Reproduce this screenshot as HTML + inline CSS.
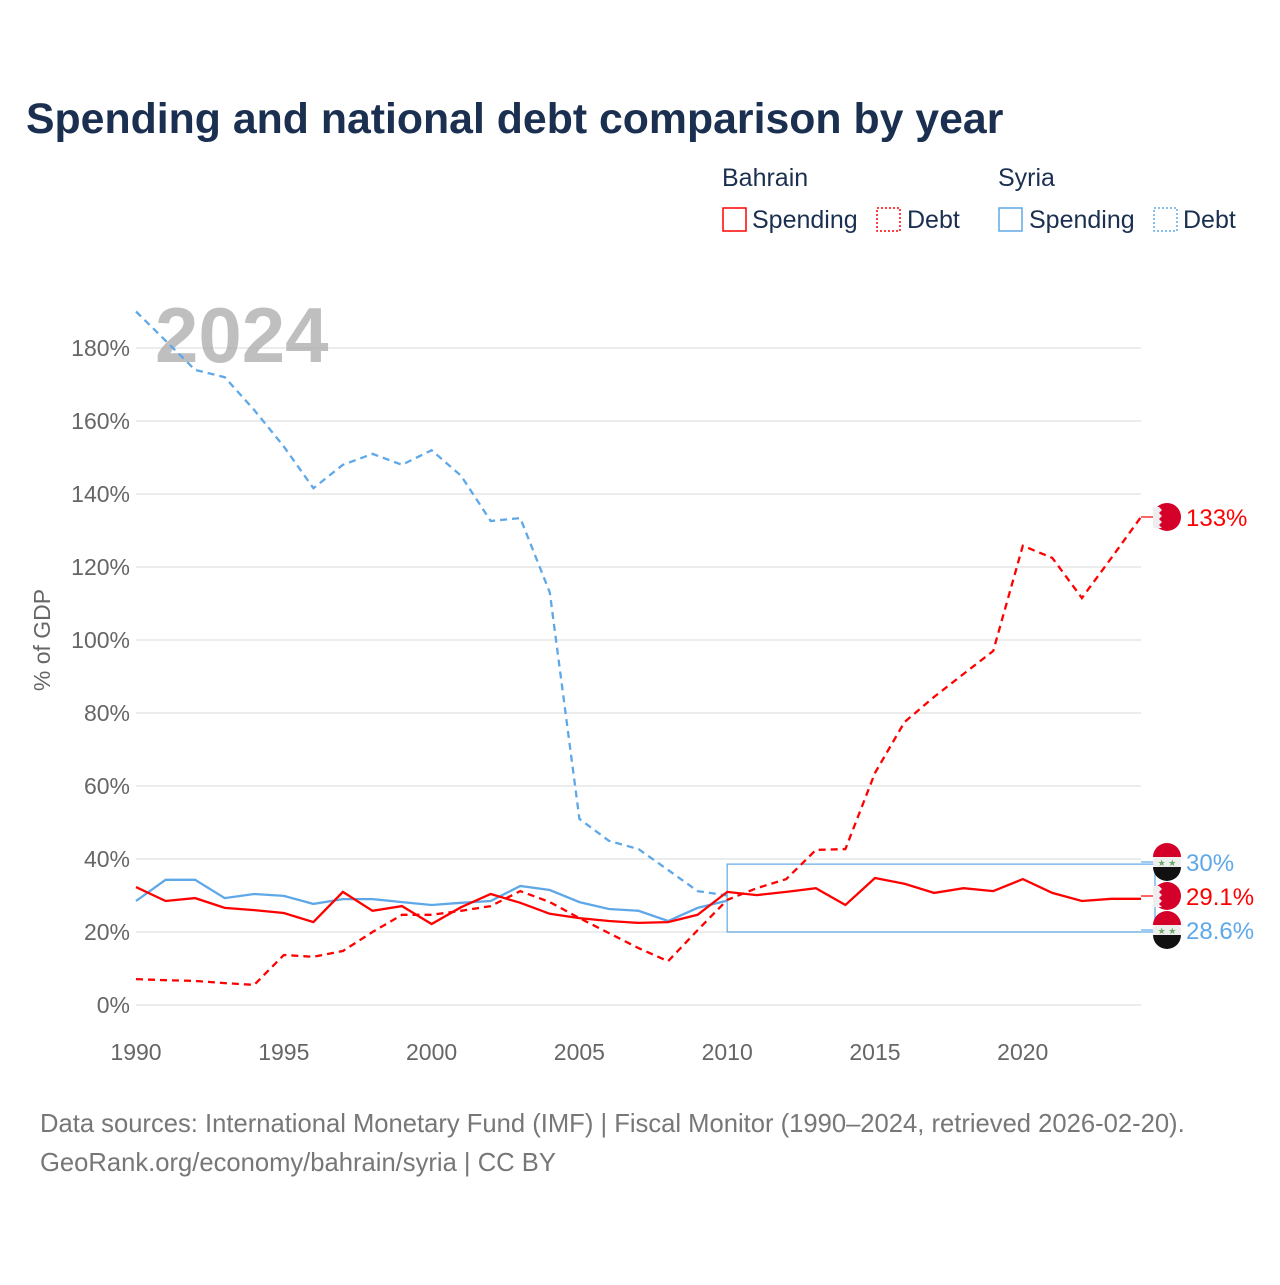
<!DOCTYPE html>
<html><head><meta charset="utf-8"><style>
body{margin:0;background:#fff;font-family:"Liberation Sans",sans-serif}
</style></head><body>
<svg width="1280" height="1280" xmlns="http://www.w3.org/2000/svg" font-family="Liberation Sans, sans-serif">
<rect width="1280" height="1280" fill="#fff"/>
<text x="26" y="133" font-size="42.8" font-weight="bold" fill="#1b3050">Spending and national debt comparison by year</text>
<g font-size="25" fill="#1b3050">
<text x="722" y="186">Bahrain</text>
<text x="998" y="186">Syria</text>
<g><rect x="723" y="208" width="23" height="23" fill="none" stroke="#f00" stroke-width="1.5"/><text x="752" y="228">Spending</text></g>
<g><rect x="877" y="208" width="23" height="23" fill="none" stroke="#f00" stroke-width="1.5" stroke-dasharray="2,2"/><text x="907" y="228">Debt</text></g>
<g><rect x="999" y="208" width="23" height="23" fill="none" stroke="#5fa8e8" stroke-width="1.5"/><text x="1029" y="228">Spending</text></g>
<g><rect x="1154" y="208" width="23" height="23" fill="none" stroke="#5fa8e8" stroke-width="1.5" stroke-dasharray="2,2"/><text x="1183" y="228">Debt</text></g>
</g>
<g id="grid"></g>
<text x="155" y="362" font-size="78" font-weight="bold" fill="#aaa" opacity="0.75">2024</text>
<text transform="translate(50,640) rotate(-90)" text-anchor="middle" font-size="23" fill="#666">% of GDP</text>
<g id="marks"></g>
<g font-size="25.6" fill="#777">
<text x="40" y="1132">Data sources: International Monetary Fund (IMF) | Fiscal Monitor (1990–2024, retrieved 2026-02-20).</text>
<text x="40" y="1171">GeoRank.org/economy/bahrain/syria | CC BY</text>
</g>
</svg>
<script>
const years=[1990,1991,1992,1993,1994,1995,1996,1997,1998,1999,2000,2001,2002,2003,2004,2005,2006,2007,2008,2009,2010,2011,2012,2013,2014,2015,2016,2017,2018,2019,2020,2021,2022,2023,2024];
const bahrainSpending=[32.3,28.5,29.3,26.6,26,25.2,22.7,31,25.8,27.1,22.2,26.8,30.4,28,25,23.8,23,22.5,22.7,24.7,31,30.1,31,32,27.4,34.8,33.2,30.7,32,31.2,34.5,30.7,28.5,29.1,29.1];
const bahrainDebt=[7.1,6.8,6.6,6,5.5,13.7,13.2,14.8,20,24.7,24.7,25.8,27.1,31.2,28.2,23.8,19.7,15.6,12,20.5,28.8,32,34.5,42.5,42.7,63.6,77.5,84.4,90.7,97,125.8,122.5,111.5,122.5,133.7];
const syriaSpending=[28.5,34.3,34.3,29.3,30.4,29.9,27.7,29,29,28.2,27.4,28,28.5,32.6,31.5,28.2,26.3,25.8,23,26.6,28.6];
const syriaDebt=[190,182,174,172,163,153,141.6,148,151,148,152,145,132.6,133.4,113,51,45,42.7,37,31.2,30];
const yTicks=[0,20,40,60,80,100,120,140,160,180];
const xTicks=[1990,1995,2000,2005,2010,2015,2020];
const NS='http://www.w3.org/2000/svg';
const X=y=>136+(y-1990)*(1141-136)/34;
const Y=v=>1005-v*(1005-348)/180;
function mk(t,a,p){const e=document.createElementNS(NS,t);for(const k in a)e.setAttribute(k,a[k]);p.appendChild(e);return e;}
const grid=document.getElementById('grid'),marks=document.getElementById('marks');
yTicks.forEach(v=>{
 const l=mk('line',{x1:136,x2:1141,y1:Y(v),y2:Y(v),stroke:'#e6e6e6','stroke-width':1.5},grid);
 
 
 const t=mk('text',{x:130,y:Y(v)+8,'text-anchor':'end','font-size':23,fill:'#666'},grid);
 t.textContent=v+'%';
 
 
});
xTicks.forEach(y=>{
 const t=mk('text',{x:X(y),y:1060,'text-anchor':'middle','font-size':23,fill:'#666'},grid);
 t.textContent=y;
 
 
});
const box=mk('rect',{x:X(2010),y:Y(38.6),width:X(2024)-X(2010)+14,height:Y(20)-Y(38.6),fill:'none',stroke:'#5fa8e8','stroke-width':1.2},marks);


function line(vals,color,dash,name){
 const d=vals.map((v,i)=>(i?'L':'M')+X(years[i]).toFixed(1)+','+Y(v).toFixed(1)).join(' ');
 const p=mk('path',{d:d,fill:'none',stroke:color,'stroke-width':2.3,'stroke-dasharray':dash||'none'},marks);
 
 
}
line(syriaDebt,'#5fa8e8','7,5','syria-debt-line');
line(bahrainDebt,'#f00','7,5','bahrain-debt-line');
line(syriaSpending,'#5fa8e8','','syria-spending-line');
line(bahrainSpending,'#f00','','bahrain-spending-line');
function flag(cy,type,label,color,name){
 const g=mk('g',{},marks);
 
 
 const cx=1167;
 if(type==='bh'){
  mk('circle',{cx:cx,cy:cy,r:14,fill:'#d4002a'},g);
  mk('path',{d:`M${cx-14},${cy-10} L${cx-8},${cy-10} L${cx-5},${cy-7} L${cx-8},${cy-4} L${cx-5},${cy-1} L${cx-8},${cy+2} L${cx-5},${cy+5} L${cx-8},${cy+8} L${cx-5},${cy+11} L${cx-14},${cy+11} Z`,fill:'#eee'},g);
 } else {
  mk('circle',{cx:cx,cy:cy,r:14,fill:'#eee'},g);
  mk('path',{d:`M${cx-14},${cy-5} A14,14 0 0 1 ${cx+14},${cy-5} Z`,fill:'#d4002a'},g);
  mk('path',{d:`M${cx-14},${cy+5} A14,14 0 0 0 ${cx+14},${cy+5} Z`,fill:'#111'},g);
  const s=mk('text',{x:cx,y:cy+4,'text-anchor':'middle','font-size':9,fill:'#6a6'},g);s.textContent='★ ★';
 }
 const t=mk('text',{x:1186,y:cy+9,'font-size':24,fill:color},g);t.textContent=label;
 mk('line',{x1:1141,x2:1153,y1:cy,y2:cy,stroke:color,'stroke-width':1.2},g);
}
flag(Y(bahrainDebt[34]),'bh','133%','#f00','label-bahrain-debt');
flag(862,'sy','30%','#5fa8e8','label-syria-debt');
flag(896,'bh','29.1%','#f00','label-bahrain-spending');
flag(930,'sy','28.6%','#5fa8e8','label-syria-spending');
</script>
</body></html>
